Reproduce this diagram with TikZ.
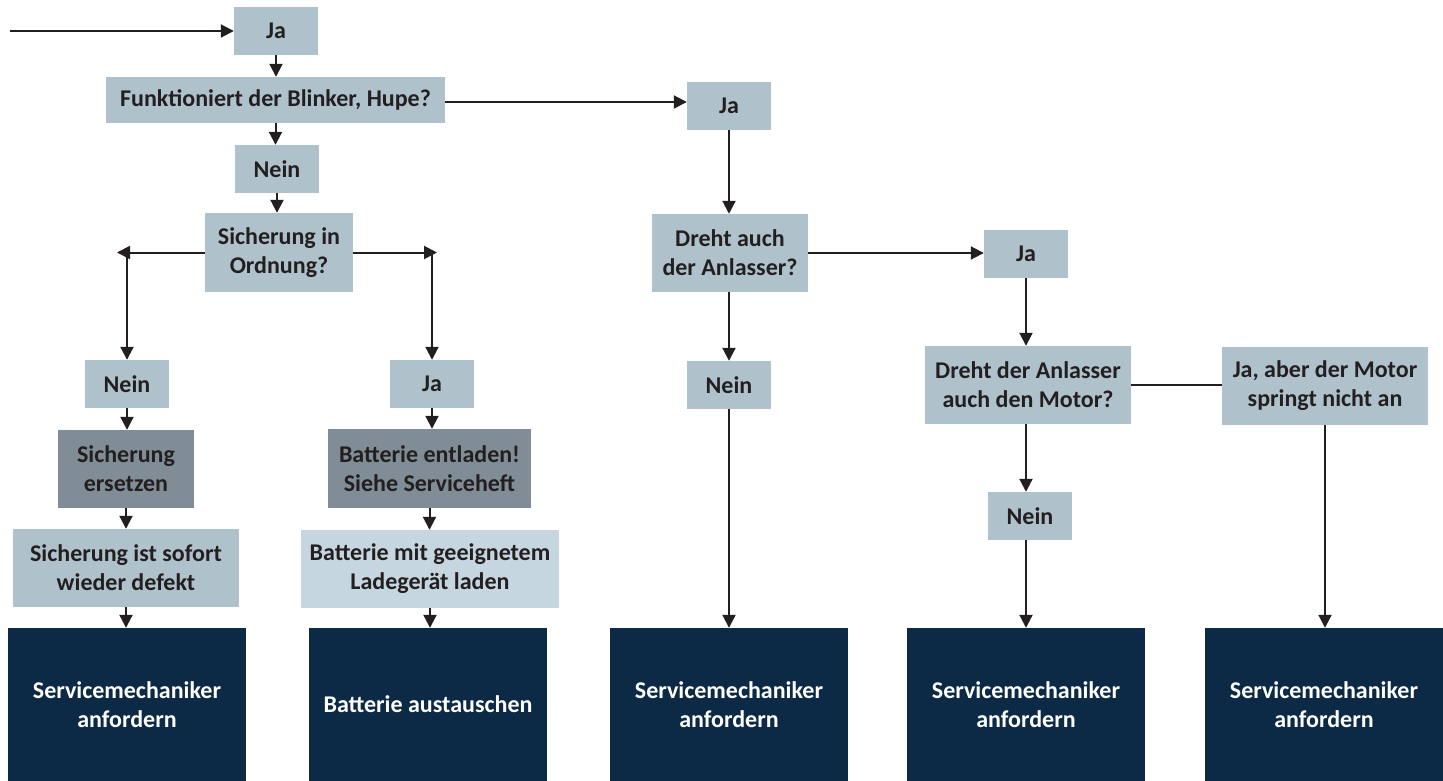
\documentclass[tikz,border=0pt]{standalone}
\usepackage{fontspec}
\setmainfont{Carlito}
\usetikzlibrary{arrows.meta}

\definecolor{boxblue}{HTML}{AFC2CC}
\definecolor{boxgray}{HTML}{808D96}
\definecolor{boxpale}{HTML}{C6D6E0}
\definecolor{boxnavy}{HTML}{0C2A45}
\definecolor{ink}{HTML}{231F20}

\tikzset{every node/.style={fill=boxblue,text=ink,align=center,inner sep=0pt,
    font=\fontsize{24}{29}\selectfont\bfseries},
  small/.style={minimum width=84pt,minimum height=48pt},
  final/.style={fill=boxnavy,text=white,minimum width=238pt,minimum height=153pt},
  arr/.style={draw=ink,line width=2pt,-{Triangle[length=13pt,width=13pt]}},
  link/.style={draw=ink,line width=2pt}}

\begin{document}
\begin{tikzpicture}[x=1pt,y=-1pt]
\useasboundingbox (0,0) rectangle (1443,781);
% left branch
\node[small] (ja1) at (276,31) {Ja};
\node[minimum width=339pt,minimum height=46pt] (blinker) at (275.5,100) {Funktioniert der Blinker, Hupe?};
\node[small] (nein1) at (277,169) {Nein};
\node[minimum width=148pt,minimum height=79pt] (sicher) at (279,252.5) {Sicherung in\\Ordnung?};
\node[small] (nein2) at (127,384) {Nein};
\node[small] (ja2) at (432,384) {Ja};
\node[fill=boxgray,minimum width=136pt,minimum height=78pt] (ersetzen) at (126,469) {Sicherung\\ersetzen};
\node[fill=boxgray,minimum width=203pt,minimum height=79pt] (entladen) at (429.5,468.5) {Batterie entladen!\\Siehe Serviceheft};
\node[minimum width=226pt,minimum height=78pt] (defekt) at (126,568) {Sicherung ist sofort\\wieder defekt};
\node[fill=boxpale,minimum width=258pt,minimum height=78pt] (laden) at (430,569) {Batterie mit geeignetem\\Ladegerät laden};
% right branch
\node[small] (ja3) at (729,106) {Ja};
\node[minimum width=156pt,minimum height=78pt] (anlasser) at (730,253) {Dreht auch\\der Anlasser?};
\node[small] (nein3) at (729,385) {Nein};
\node[small] (ja4) at (1026,254) {Ja};
\node[minimum width=206pt,minimum height=78pt] (motor) at (1028,385) {Dreht der Anlasser\\auch den Motor?};
\node[minimum width=206pt,minimum height=78pt] (aber) at (1325,386) {Ja, aber der Motor\\springt nicht an};
\node[small] (nein4) at (1030,516) {Nein};
% end boxes
\node[final] (end1) at (127,704.5) {Servicemechaniker\\anfordern};
\node[final] (end2) at (428,704.5) {Batterie austauschen};
\node[final] (end3) at (729,704.5) {Servicemechaniker\\anfordern};
\node[final] (end4) at (1026,704.5) {Servicemechaniker\\anfordern};
\node[final] (end5) at (1324,704.5) {Servicemechaniker\\anfordern};

\coordinate (start) at (10,31);
\coordinate (lk) at (117,252.5);
\coordinate (rk) at (437,252.5);

\draw[arr] (start) -- (ja1.west);
\draw[arr] (ja1.south) -- (ja1.south |- blinker.north);
\draw[arr] ([yshift=-2pt]blinker.east) -- ([yshift=-2pt]ja3.west |- blinker.east);
\draw[arr] (blinker.south) -- (blinker.south |- nein1.north);
\draw[arr] (nein1.south) -- (nein1.south |- sicher.north);
\draw[arr] (sicher.west) -- (lk);
\draw[arr] (sicher.east) -- (rk);
\draw[arr] (nein2.north |- sicher.west) -- (nein2.north);
\draw[arr] (ja2.north |- sicher.east) -- (ja2.north);
\draw[arr] (nein2.south) -- (nein2.south |- ersetzen.north);
\draw[arr] (ersetzen.south) -- (ersetzen.south |- defekt.north);
\draw[arr] (defekt.south) -- (defekt.south |- end1.north);
\draw[arr] (ja2.south) -- (ja2.south |- entladen.north);
\draw[arr] (entladen.south) -- (entladen.south |- laden.north);
\draw[arr] (laden.south) -- (laden.south |- end2.north);
\draw[arr] (ja3.south) -- (ja3.south |- anlasser.north);
\draw[arr] (anlasser.east) -- (ja4.west |- anlasser.east);
\draw[arr] (ja3.south |- anlasser.south) -- (ja3.south |- nein3.north);
\draw[arr] (nein3.south) -- (nein3.south |- end3.north);
\draw[arr] (ja4.south) -- (ja4.south |- motor.north);
\draw[link] (motor.east) -- (aber.west |- motor.east);
\draw[arr] (ja4.south |- motor.south) -- (ja4.south |- nein4.north);
\draw[arr] (ja4.south |- nein4.south) -- (ja4.south |- end4.north);
\draw[arr] (aber.south) -- (aber.south |- end5.north);
\end{tikzpicture}
\end{document}
